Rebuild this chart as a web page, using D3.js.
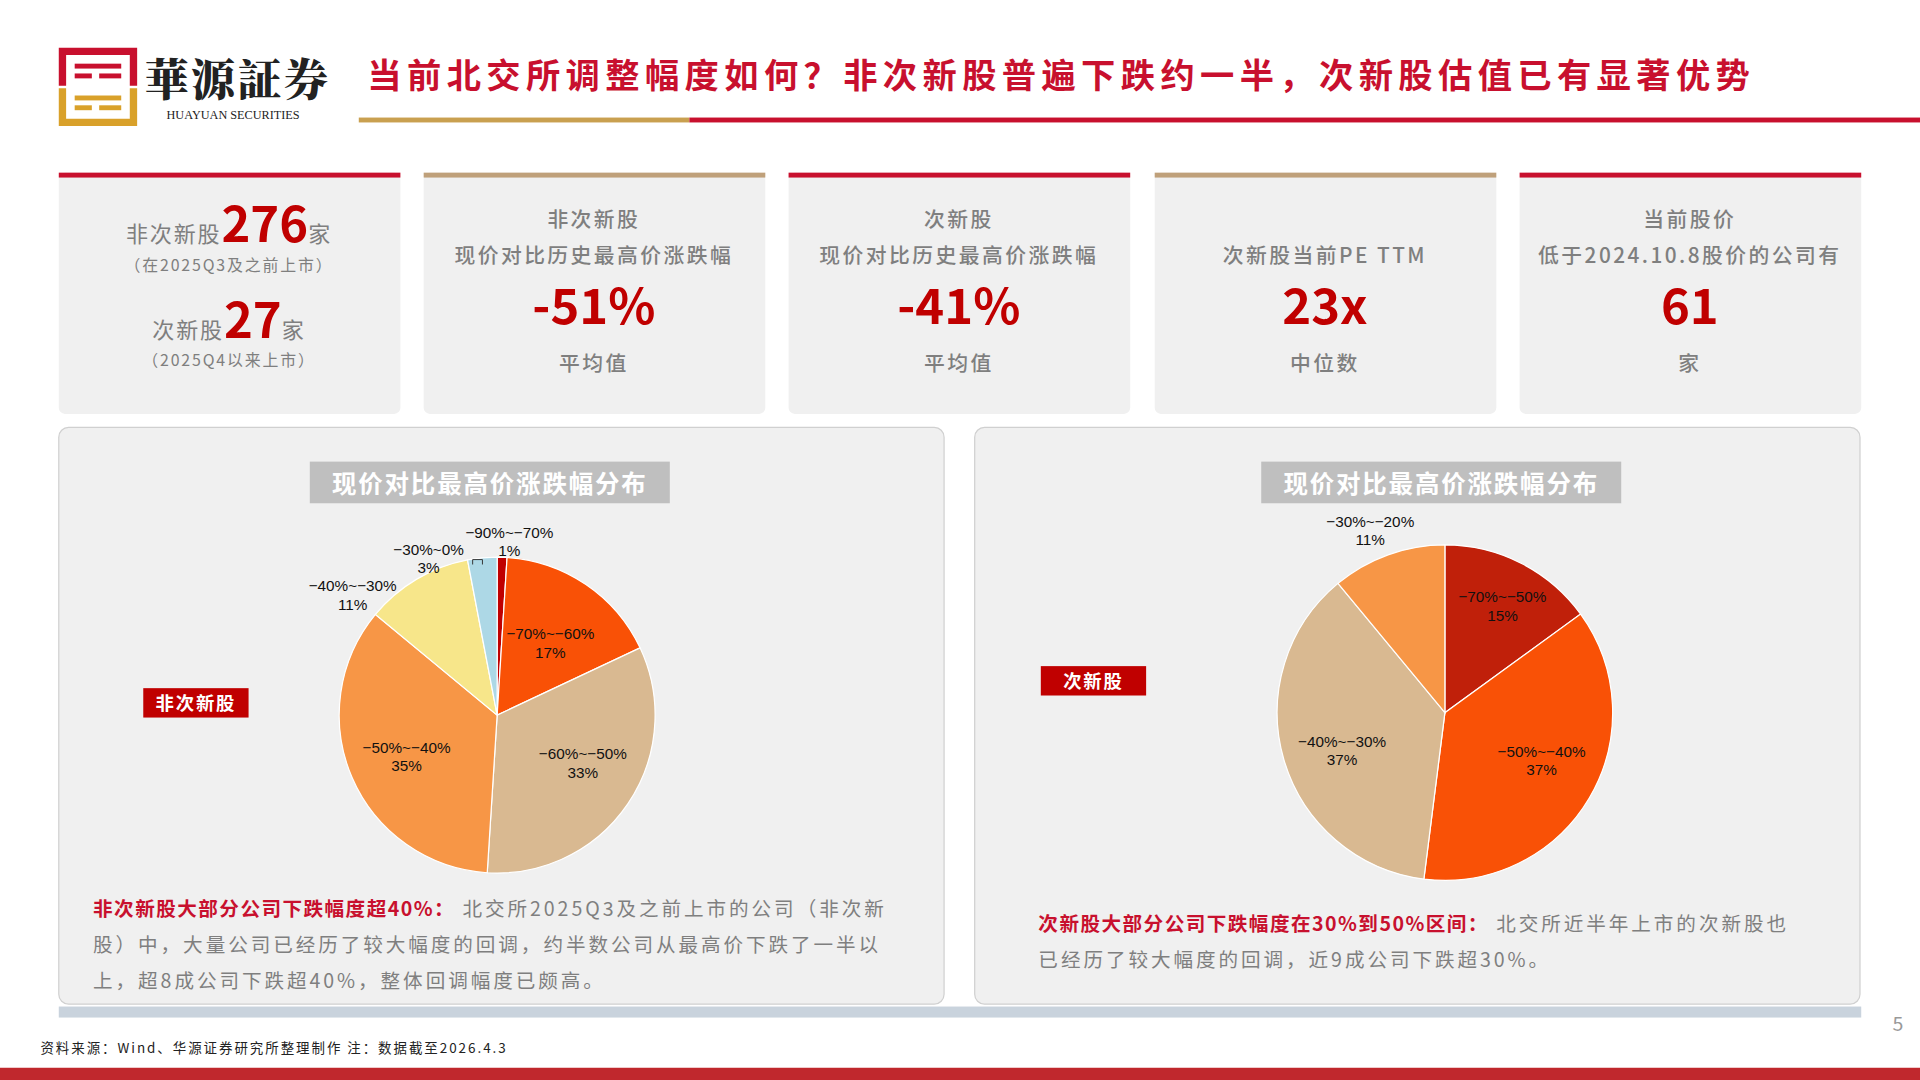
<!DOCTYPE html>
<html><head><meta charset="utf-8">
<script src="https://cdn.jsdelivr.net/npm/d3@7"></script>
<style>body{margin:0;background:#fff}svg{display:block}</style>
</head><body>
<div id="chart"></div>
<script>
// data
const oldLabels = ["-90%~-70%", "-70%~-60%", "-60%~-50%", "-50%~-40%", "-40%~-30%", "-30%~0%"]
const oldValues = [1, 17, 33, 35, 11, 3]
const newLabels = ["-70%~-50%", "-50%~-40%", "-40%~-30%", "-30%~-20%"]
const newValues = [15, 37, 37, 11]
const cardTops = ["非次新股", "次新股", "", "当前股价"]
const cardMids = ["现价对比历史最高价涨跌幅", "现价对比历史最高价涨跌幅", "次新股当前PE TTM", "低于2024.10.8股价的公司有"]
const cardNums = ["-51%", "-41%", "23x", "61"]
const cardBottoms = ["平均值", "平均值", "中位数", "家"]

const RED = "#C00000", GRAY = "#7F7F7F"
const svg = d3.select("#chart").append("svg")
    .attr("width", 1920).attr("height", 1080)
    .attr("viewBox", "0 0 1568 882")
const font = "'Noto Sans CJK SC', 'Noto Sans', sans-serif"

// header
const logo = svg.append("g").attr("transform", "translate(51 42)")
logo.append("path").attr("d", "M0 28 V0 H58 V28").attr("fill", "none").attr("stroke", "#C8102E").attr("stroke-width", 6)
logo.append("path").attr("d", "M0 30 V58 H58 V30").attr("fill", "none").attr("stroke", "#D9A12A").attr("stroke-width", 6)
;[[10, 10, 38, 4], [10, 18, 14, 4], [30, 18, 18, 4], [10, 36, 38, 4], [10, 44, 14, 4], [30, 44, 18, 4]].forEach((r, i) =>
    logo.append("rect").attr("x", r[0]).attr("y", r[1]).attr("width", r[2]).attr("height", r[3])
        .attr("fill", i < 3 ? "#C8102E" : "#D9A12A"))
svg.append("text").attr("x", 118).attr("y", 78).attr("font-family", "'Noto Serif CJK SC', " + font)
    .attr("font-weight", 900).attr("font-size", 36).attr("fill", "#222").attr("letter-spacing", 2).text("華源証券")
svg.append("text").attr("x", 136).attr("y", 97).attr("font-family", "'Liberation Serif', serif")
    .attr("font-size", 10).attr("fill", "#222").text("HUAYUAN SECURITIES")
svg.append("text").attr("x", 300).attr("y", 72).attr("font-family", font).attr("font-weight", 700)
    .attr("font-size", 28).attr("fill", "#C8102E").attr("letter-spacing", 4.4)
    .text("当前北交所调整幅度如何？非次新股普遍下跌约一半，次新股估值已有显著优势")
svg.append("rect").attr("x", 293).attr("y", 96).attr("width", 270).attr("height", 4).attr("fill", "#C9A050")
svg.append("rect").attr("x", 563).attr("y", 96).attr("width", 1005).attr("height", 4).attr("fill", "#C8102E")

// cards
const cardX = [48, 346, 644, 943, 1241]
const cardColors = ["#C8102E", "#BFA07A", "#C8102E", "#BFA07A", "#C8102E"]
cardX.forEach((x, i) => {
    svg.append("rect").attr("x", x).attr("y", 141).attr("width", 279).attr("height", 197).attr("rx", 5).attr("fill", "#F0F0F0")
    svg.append("rect").attr("x", x).attr("y", 141).attr("width", 279).attr("height", 4).attr("fill", cardColors[i])
})
const t = (x, y, s, c, txt, w = 400, a = "middle", ls = 0) => svg.append("text").attr("x", x).attr("y", y)
    .attr("font-family", font).attr("font-size", s).attr("fill", c).attr("font-weight", w)
    .attr("text-anchor", a).attr("letter-spacing", ls).text(txt)
// card 1
const c1 = svg.append("text").attr("x", 187).attr("y", 198).attr("text-anchor", "middle").attr("font-family", font).attr("fill", GRAY).attr("letter-spacing", 1.5)
c1.append("tspan").attr("font-size", 18).text("非次新股")
c1.append("tspan").attr("font-size", 40).attr("font-weight", 700).attr("fill", RED).attr("letter-spacing", 0).text("276")
c1.append("tspan").attr("font-size", 18).text("家")
t(187, 221, 13, GRAY, "（在2025Q3及之前上市）", 400, "middle", 1.5)
const c2 = svg.append("text").attr("x", 187).attr("y", 276).attr("text-anchor", "middle").attr("font-family", font).attr("fill", GRAY).attr("letter-spacing", 1.5)
c2.append("tspan").attr("font-size", 18).text("次新股")
c2.append("tspan").attr("font-size", 40).attr("font-weight", 700).attr("fill", RED).attr("letter-spacing", 0).text("27")
c2.append("tspan").attr("font-size", 18).text("家")
t(187, 299, 13, GRAY, "（2025Q4以来上市）", 400, "middle", 1.5)
cardNums.forEach((n, i) => {
    const cx = cardX[i + 1] + 139
    if (cardTops[i]) t(cx, 185, 17, GRAY, cardTops[i], 500, "middle", 2)
    t(cx, 215, 17, GRAY, cardMids[i], 500, "middle", 2)
    t(cx, 265, 40, RED, n, 700)
    t(cx, 303, 17, GRAY, cardBottoms[i], 500, "middle", 2)
})

// panels
;[[48, 205], [796, 234]].forEach(([x, bx]) => {
    svg.append("rect").attr("x", x).attr("y", 349).attr("width", 723).attr("height", 471).attr("rx", 8)
        .attr("fill", "#F0F0F0").attr("stroke", "#D0D0D0")
    svg.append("rect").attr("x", x + bx).attr("y", 377).attr("width", 294).attr("height", 34).attr("fill", "#BFBFBF")
    t(x + bx + 147, 403, 20, "#fff", "现价对比最高价涨跌幅分布", 700, "middle", 1.5)
})
svg.append("rect").attr("x", 48).attr("y", 822).attr("width", 1472).attr("height", 9).attr("fill", "#C9D3DD")

function drawPie(cx, cy, r, labels, values, colors, labelPos, tag) {
    const pie = d3.pie().sort(null).value(d => d)
    const arcs = pie(values)
    const arc = d3.arc().innerRadius(0).outerRadius(r)
    const g = svg.append("g").attr("transform", `translate(${cx} ${cy})`)
    g.selectAll("path").data(arcs).enter().append("path")
        .attr("d", arc).attr("fill", (d, i) => colors[i]).attr("stroke", "#fff").attr("stroke-width", 1)
    arcs.forEach((d, i) => {
        const p = labelPos[i] || d3.arc().innerRadius(r * 0.6).outerRadius(r * 0.6).centroid(d)
        const tx = g.append("text").attr("x", p[0]).attr("y", p[1] + 2).attr("text-anchor", "middle")
            .attr("font-family", "'Liberation Sans', Arial, sans-serif").attr("font-size", 12.5).attr("fill", "#111")
        tx.append("tspan").attr("x", p[0]).text(labels[i].replace(/-/g, "\u2212"))
        tx.append("tspan").attr("x", p[0]).attr("dy", 15).text(values[i] + "%")
    })
    svg.append("rect").attr("x", tag[0]).attr("y", tag[1]).attr("width", 86).attr("height", 24).attr("fill", RED)
    t(tag[0] + 43, tag[1] + 18, 15, "#fff", tag[2], 700, "middle", 1.5)
}
drawPie(406, 584, 129, oldLabels, oldValues,
    ["#C00000", "#F95106", "#D9B991", "#F79646", "#F7E68A", "#ADD8E6"],
    [[10, -147], null, [70, 34], [-74, 29], [-118, -103], [-56, -133]], [117, 562, "非次新股"])
svg.append("path").attr("d", "M386 461 V457 H394 V461").attr("fill", "none").attr("stroke", "#333").attr("stroke-width", 0.8)
drawPie(1180, 582, 137, newLabels, newValues,
    ["#C0200A", "#F95106", "#D9B991", "#F79646"],
    [[47, -92], [79, 34], [-84, 26], [-61, -154]], [850, 544, "次新股"])

// notes
function note(x, y, lines, boldText) {
    lines.forEach((ln, i) => {
        const tx = svg.append("text").attr("x", x).attr("y", y + i * 29.5).attr("font-family", font).attr("font-size", 16)
            .attr("fill", GRAY).attr("letter-spacing", 2.4)
        if (i === 0) tx.append("tspan").attr("fill", "#C8102E").attr("font-weight", 700).attr("letter-spacing", 1.2).text(boldText)
        tx.append("tspan").text(ln)
    })
}
note(76, 748, ["   北交所2025Q3及之前上市的公司（非次新", "股）中，大量公司已经历了较大幅度的回调，约半数公司从最高价下跌了一半以", "上，超8成公司下跌超40%，整体回调幅度已颇高。"], "非次新股大部分公司下跌幅度超40%：")
note(848, 760, ["   北交所近半年上市的次新股也", "已经历了较大幅度的回调，近9成公司下跌超30%。"], "次新股大部分公司下跌幅度在30%到50%区间：")

t(1550, 842, 16, "#999", "5")
t(33, 860, 11, "#222", "资料来源：Wind、华源证券研究所整理制作   注：数据截至2026.4.3", 400, "start", 1.6)
svg.append("rect").attr("x", 0).attr("y", 872).attr("width", 1568).attr("height", 10).attr("fill", "#C0282D")
</script>
</body></html>
